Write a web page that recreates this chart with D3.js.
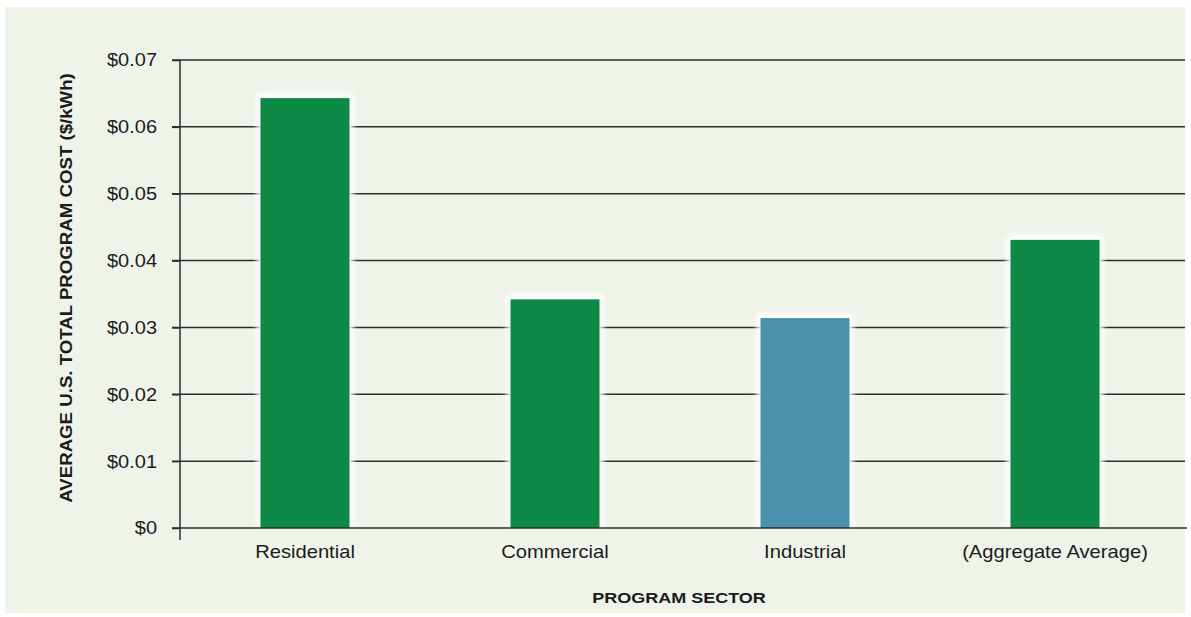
<!DOCTYPE html>
<html>
<head>
<meta charset="utf-8">
<script src="https://cdn.jsdelivr.net/npm/d3@7"></script>
<style>
  html, body { margin: 0; padding: 0; background: #ffffff; }
  svg { display: block; }
  text { font-family: "Liberation Sans", Arial, Helvetica, sans-serif; fill: #1b1b1b; }
</style>
</head>
<body>
<svg id="chart" width="1191" height="617"></svg>
<script>
const categories = ["Residential", "Commercial", "Industrial", "(Aggregate Average)"];
const values = [0.0643, 0.0342, 0.0314, 0.0431];
const barColors = ["#0d8a45", "#0d8a45", "#4b91ad", "#0d8a45"];
const yTicks = [0, 0.01, 0.02, 0.03, 0.04, 0.05, 0.06, 0.07];
const yTickLabels = ["$0", "$0.01", "$0.02", "$0.03", "$0.04", "$0.05", "$0.06", "$0.07"];
const yTitle = "AVERAGE U.S. TOTAL PROGRAM COST ($/kWh)";
const xTitle = "PROGRAM SECTOR";

(function () {
const svg = d3.select("#chart");

// panel background
svg.append("rect").attr("x", 5).attr("y", 7).attr("width", 1180).attr("height", 606)
  .attr("fill", "#eef4e9");

const defs = svg.append("defs");
const f = defs.append("filter").attr("id", "glow").attr("x", "-20%").attr("y", "-20%").attr("width", "140%").attr("height", "140%");
f.append("feGaussianBlur").attr("stdDeviation", 2.5);

const mLeft = 180, mRight = 1185, mTop = 60, mBottom = 528;

const x = d3.scaleBand().domain(categories).range([180, 1180]).paddingInner(0.644).paddingOuter(0.322);
const y = d3.scaleLinear().domain([0, 0.07]).range([mBottom, mTop]);

function stretch(sel, k) {
  sel.each(function() {
    const len = this.getComputedTextLength();
    d3.select(this).attr("textLength", len * k).attr("lengthAdjust", "spacingAndGlyphs");
  });
}

// gridlines
svg.append("g").selectAll("line").data(yTicks.slice(1)).join("line")
  .attr("x1", mLeft - 8).attr("x2", mRight)
  .attr("y1", d => y(d)).attr("y2", d => y(d))
  .attr("stroke", "#2e2e2a").attr("stroke-width", 1.5);

// bar halos
svg.append("g").selectAll("rect").data(values).join("rect")
  .attr("x", (d, i) => x(categories[i]) - 4)
  .attr("y", d => y(d) - 5)
  .attr("width", x.bandwidth() + 8)
  .attr("height", d => mBottom - y(d) + 5)
  .attr("fill", "#ffffff").attr("opacity", 0.9)
  .attr("filter", "url(#glow)");

// bars
svg.append("g").selectAll("rect").data(values).join("rect")
  .attr("x", (d, i) => x(categories[i]))
  .attr("y", d => y(d))
  .attr("width", x.bandwidth())
  .attr("height", d => mBottom - y(d))
  .attr("fill", (d, i) => barColors[i]);

// y axis
const yAxis = d3.axisLeft(y).tickValues(yTicks)
  .tickFormat((d, i) => yTickLabels[i]).tickSize(8).tickPadding(15);
const gy = svg.append("g").attr("transform", `translate(${mLeft},0)`).call(yAxis);
gy.select(".domain").remove();
gy.selectAll(".tick line").attr("stroke", "#2e2e2a").attr("stroke-width", 1.5);
gy.selectAll(".tick text").attr("font-size", 18.5).attr("fill", "#1b1b1b")
  .attr("font-family", "Liberation Sans, Arial, sans-serif").call(stretch, 1.08);

// y axis line
svg.append("line").attr("x1", mLeft).attr("x2", mLeft).attr("y1", mTop).attr("y2", 540)
  .attr("stroke", "#2e2e2a").attr("stroke-width", 1.5);
// x axis line
svg.append("line").attr("x1", mLeft - 8).attr("x2", 1187).attr("y1", mBottom).attr("y2", mBottom)
  .attr("stroke", "#2e2e2a").attr("stroke-width", 1.5);

// x axis labels
const xAxis = d3.axisBottom(x).tickSize(0).tickPadding(17);
const gx = svg.append("g").attr("transform", `translate(0,${mBottom})`).call(xAxis);
gx.select(".domain").remove();
gx.selectAll(".tick text").attr("font-size", 18.5).attr("fill", "#1b1b1b")
  .attr("font-family", "Liberation Sans, Arial, sans-serif").call(stretch, 1.09);

// titles
svg.append("text").attr("x", 679).attr("y", 603).attr("text-anchor", "middle")
  .attr("font-size", 15).attr("font-weight", "bold").text(xTitle).call(stretch, 1.2);

svg.append("text").attr("transform", "translate(72,288) rotate(-90)")
  .attr("text-anchor", "middle").attr("font-size", 16.5).attr("font-weight", "bold")
  .text(yTitle).call(stretch, 1.13);
})();
</script>
</body>
</html>
